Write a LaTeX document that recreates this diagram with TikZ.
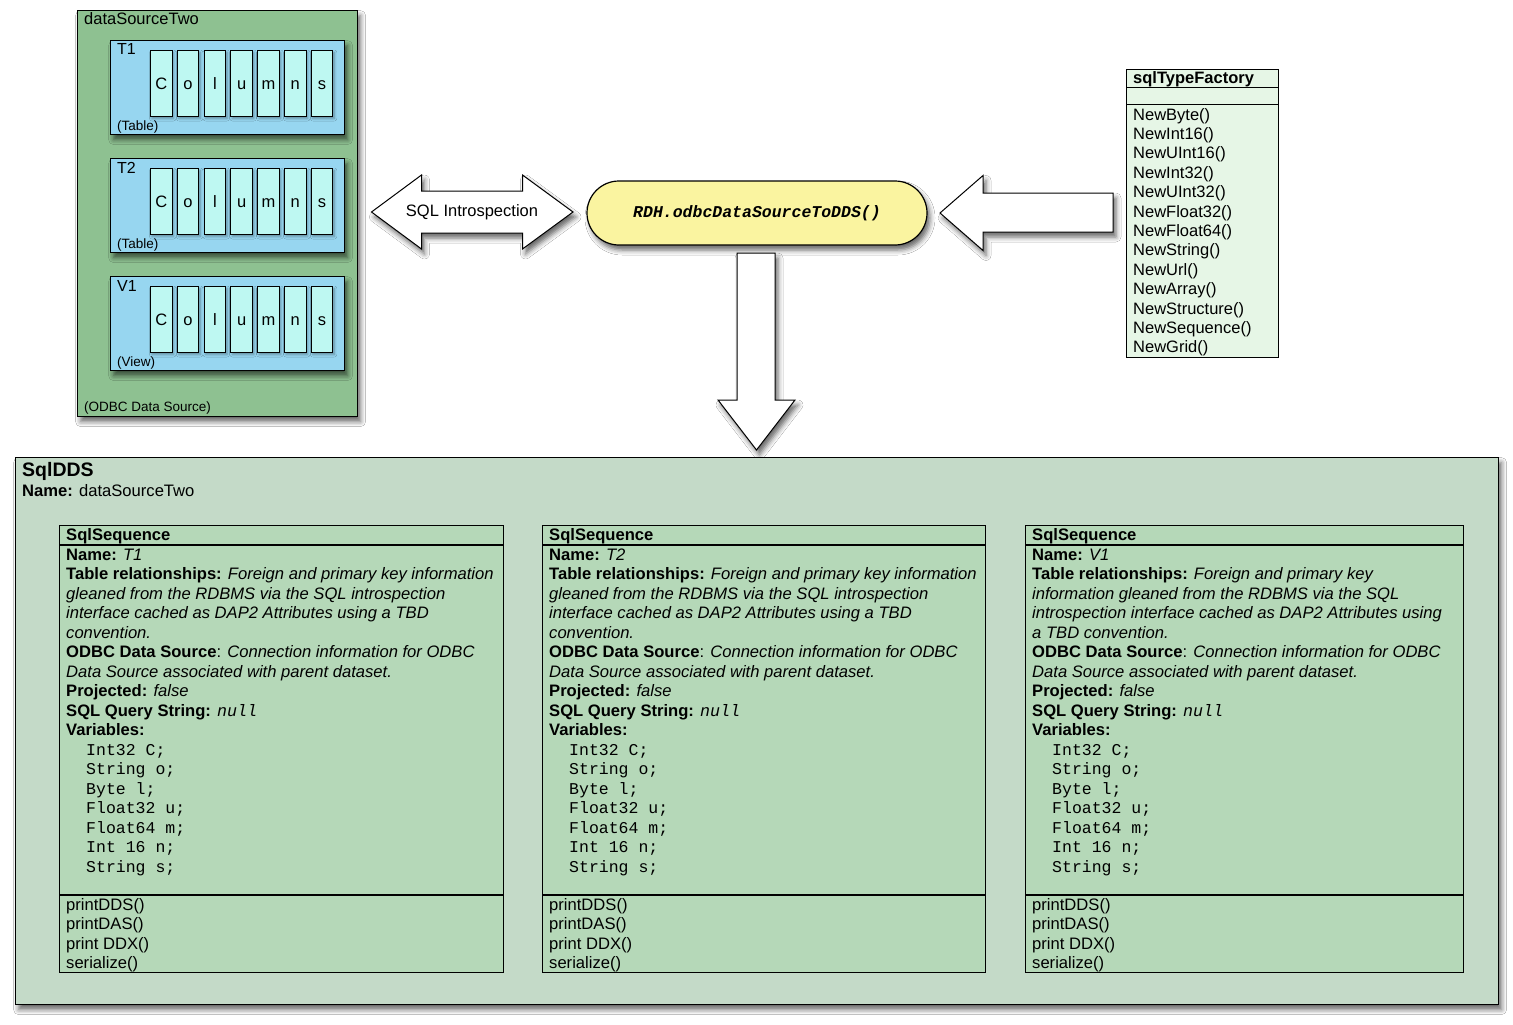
\documentclass[tikz,border=0pt]{standalone}
\usepackage{fontspec}
\setmainfont{Liberation Sans}
\setmonofont{Liberation Mono}
\usetikzlibrary{shadows.blur}
\definecolor{dsgreen}{RGB}{142,193,145}
\definecolor{tblue}{RGB}{151,214,240}
\definecolor{colcyan}{RGB}{190,248,242}
\definecolor{funcyellow}{RGB}{250,244,160}
\definecolor{ddsgreen}{RGB}{196,218,200}
\definecolor{seqgreen}{RGB}{181,216,184}
\definecolor{factgreen}{RGB}{230,246,230}
\newcommand\setfs[2]{\fontsize{#1}{#2}\selectfont}

% One SqlSequence class box:
% #1 left x, #2 width, #3 node name, #4 sequence name, #5-#8 table relationship lines
\newcommand\seqbox[8]{%
  \begin{scope}[shift={(#1,0)}]
    \node[box, fill=seqgreen, minimum width=#2pt, minimum height=447pt, anchor=north west] (#3) at (0,525) {};
    \draw[line width=1.2pt] (0,545) -- (#2,545) (0,895) -- (#2,895);
    \node[txt, font=\setfs{16.6}{19.5}\bfseries] at (7,540) {SqlSequence};
    \node[txt] at (7,560) {\textbf{Name:} \textit{#4}};
    \node[txt] at (7,579.5) {\textbf{Table relationships:} \textit{#5}};
    \node[txt] at (7,599) {\textit{#6}};
    \node[txt] at (7,618.5) {\textit{#7}};
    \node[txt] at (7,638) {\textit{#8}};
    \node[txt] at (7,657.5) {\textbf{ODBC Data Source}: \textit{Connection information for ODBC}};
    \node[txt] at (7,677) {\textit{Data Source associated with parent dataset.}};
    \node[txt] at (7,696.5) {\textbf{Projected:} \textit{false}};
    \node[txt] at (7,716) {\textbf{SQL Query String:} {\ttfamily\itshape null}};
    \node[txt] at (7,735.5) {\textbf{Variables:}};
    \foreach \v [count=\i from 0] in {{Int32 C;},{String o;},{Byte l;},{Float32 u;},{Float64 m;},{Int 16 n;},{String s;}}
      \node[mono] at (27,755+19.5*\i) {\v};
    \foreach \m [count=\i from 0] in {{printDDS()},{printDAS()},{print DDX()},{serialize()}}
      \node[txt] at (7,910+19.5*\i) {\m};
  \end{scope}}

\begin{document}
\begin{tikzpicture}[x=1pt,y=-1pt,
  box/.style={draw=black, line width=1.2pt, inner sep=0pt, rectangle},
  softshadow/.style={blur shadow={shadow xshift=3pt, shadow yshift=-5pt, shadow blur radius=5pt, shadow opacity=60}},
  lightshadow/.style={blur shadow={shadow xshift=1.5pt, shadow yshift=-2pt, shadow blur radius=2.5pt, shadow opacity=35}},
  txt/.style={anchor=base west, inner sep=0pt, font=\setfs{16.6}{19.5}},
  small/.style={anchor=base west, inner sep=0pt, font=\setfs{13.5}{16}},
  mono/.style={anchor=base west, inner sep=0pt, font=\setfs{16.5}{19.5}\ttfamily},
  blockarrow/.style={draw=black, line width=1pt, fill=white, line join=miter, softshadow},
]
\useasboundingbox (0,0) rectangle (1513,1025);
\fill[white] (0,0) rectangle (1513,1025);

% ODBC data source with its tables and view
\node[box, fill=dsgreen, softshadow, minimum width=280pt, minimum height=406pt, anchor=north west] (ds) at (77,10) {};
\node[txt, font=\setfs{16.5}{19.5}] (dsname) at (84,25) {dataSourceTwo};
\node[small] (dskind) at (84,411) {(ODBC Data Source)};
\foreach \ty/\lab/\kind/\nm in {40/T1/Table/t1, 158/T2/Table/t2, 276/V1/View/v1} {
  \node[box, fill=tblue, softshadow, minimum width=234pt, minimum height=94pt, anchor=north west] (\nm) at (110,\ty) {};
  \node[txt, font=\setfs{16}{19}] at (117,\ty+15) {\lab};
  \node[small] at (117,\ty+90) {(\kind)};
  \foreach \c [count=\i from 0] in {C,o,l,u,m,n,s}
    \node[box, line width=1pt, fill=colcyan, lightshadow, minimum width=21.5pt, minimum height=66pt,
          text height=12pt, text depth=0pt, anchor=north west, font=\setfs{16.5}{19.5}]
          (\nm col\i) at (150+26.8*\i,\ty+10) {\c};
}

% SQL introspection double arrow
\coordinate (introc) at (472,212);
\begin{scope}[shift={(introc)}]
  \draw[blockarrow] (-100.5,0) -- (-50.5,-37) -- (-50.5,-21) -- (50.5,-21) -- (50.5,-37) -- (101,0)
    -- (50.5,37) -- (50.5,21) -- (-50.5,21) -- (-50.5,37) -- cycle;
\end{scope}
\node[font=\setfs{16.5}{19.5}, inner sep=0pt] (intro) at (introc) {SQL Introspection};

% conversion function
\node[draw=black, line width=1.2pt, fill=funcyellow, rounded corners=32pt, minimum width=340pt,
      minimum height=64pt, softshadow, font=\setfs{16.5}{19.5}\ttfamily\bfseries\itshape]
      (func) at (757,213) {RDH.odbcDataSourceToDDS()};

% type factory feeding the function
\draw[blockarrow] (940,213) -- (983,175.5) -- (983,193) -- (1113,193) -- (1113,232) -- (983,232) -- (983,250.5) -- cycle;

% function output down to the DDS
\draw[blockarrow] (737,253) -- (775,253) -- (775,400) -- (795,400) -- (756.5,450) -- (718,400) -- (737,400) -- cycle;

% sqlTypeFactory class box
\node[box, line width=1pt, fill=factgreen, minimum width=152pt, minimum height=288pt, anchor=north west] (fact) at (1126,69) {};
\draw[line width=1pt] (1126,88) -- (1278,88) (1126,104) -- (1278,104);
\node[txt, font=\setfs{16.5}{19.5}\bfseries] (facttitle) at (1133,84) {sqlTypeFactory};
\foreach \m [count=\i from 0] in {NewByte(),NewInt16(),NewUInt16(),NewInt32(),NewUInt32(),NewFloat32(),NewFloat64(),NewString(),NewUrl(),NewArray(),NewStructure(),NewSequence(),NewGrid()}
  \node[txt, font=\setfs{16.5}{19.5}] at (1133,120+19.4*\i) {\m};

% the resulting DDS
\node[box, fill=ddsgreen, softshadow, minimum width=1483pt, minimum height=547pt, anchor=north west] (dds) at (15,457) {};
\node[txt, font=\setfs{19.5}{22}\bfseries] (ddstitle) at (22,476) {SqlDDS};
\node[txt] (ddsname) at (22,496) {\textbf{Name:} dataSourceTwo};

\seqbox{59}{444}{seqA}{T1}{Foreign and primary key information}{gleaned from the RDBMS via the SQL introspection}{interface cached as DAP2 Attributes using a TBD}{convention.}
\seqbox{542}{443}{seqB}{T2}{Foreign and primary key information}{gleaned from the RDBMS via the SQL introspection}{interface cached as DAP2 Attributes using a TBD}{convention.}
\seqbox{1025}{438}{seqC}{V1}{Foreign and primary key}{information gleaned from the RDBMS via the SQL}{introspection interface cached as DAP2 Attributes using}{a TBD convention.}

\end{tikzpicture}
\end{document}
